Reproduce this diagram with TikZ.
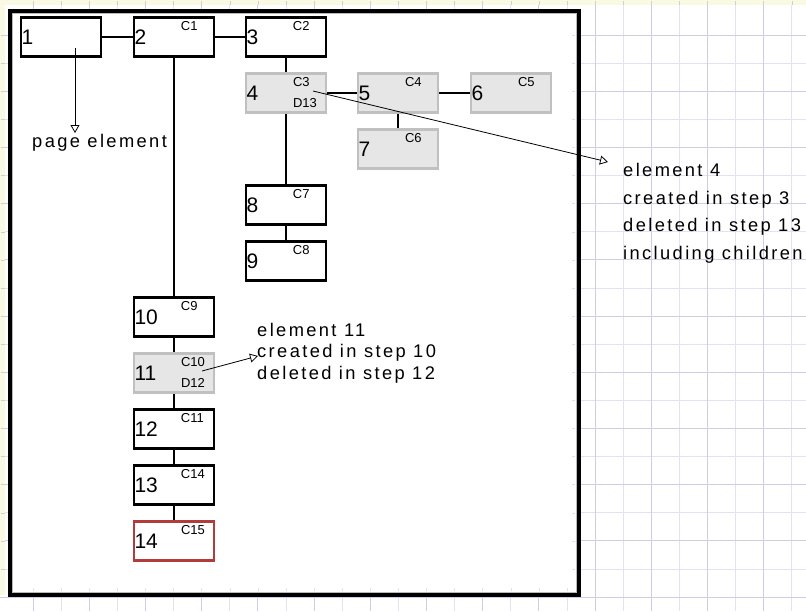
\documentclass[tikz,border=0pt]{standalone}
\usepackage{fontspec}
\setmainfont{Liberation Sans}
\newfontfamily\annfont[LetterSpace=13]{Liberation Sans}
\usetikzlibrary{arrows.meta,calc}
\definecolor{gfill}{HTML}{E6E6E6}
\definecolor{gborder}{HTML}{C0C0C0}
\definecolor{redc}{HTML}{B23C3C}
\definecolor{gridminor}{HTML}{E2E2F0}
\definecolor{gridmajor}{HTML}{CDCDE3}
\definecolor{ystrip}{HTML}{FAFAE4}
\definecolor{tickc}{HTML}{D0D0C8}
\tikzset{
  box/.style={draw=black, line width=2.5pt, minimum width=80pt, minimum height=39pt,
    inner xsep=0.5pt, inner ysep=0pt, text width=79pt, align=left,
    font=\fontsize{21}{21}\selectfont},
  gbox/.style={box, draw=gborder, fill=gfill, line width=2.2pt},
  rbox/.style={box, draw=redc, line width=2.2pt},
  conn/.style={line width=2.5pt},
  ann/.style={line width=0.8pt, -{Triangle[open, length=8pt, width=9pt, line width=0.8pt]}},
  clbl/.style={font=\fontsize{13}{13}\selectfont, inner sep=0pt, anchor=west},
  anntext/.style={align=left, inner sep=0pt, anchor=north west},
}
\begin{document}
\begin{tikzpicture}[x=1pt,y=-1pt]
\useasboundingbox (0,0) rectangle (806,611);
\fill[white] (0,0) rectangle (806,611);
% grid
\foreach \k in {1,...,28} \draw[gridminor, line width=1pt] ({5+28.1*\k},0) -- ({5+28.1*\k},611);
\foreach \k in {1,...,21} \draw[gridminor, line width=1pt] (0,{7+28.1*\k}) -- (806,{7+28.1*\k});
\foreach \k in {1,3,...,27} \draw[gridmajor, line width=1pt] ({5+28.1*\k},0) -- ({5+28.1*\k},611);
\foreach \k in {1,3,...,21} \draw[gridmajor, line width=1pt] (0,{7+28.1*\k}) -- (806,{7+28.1*\k});
% rulers
\fill[ystrip] (0,0) rectangle (806,5);
\fill[ystrip] (0,0) rectangle (5,595);
\foreach \k in {1,...,28} \draw[tickc, line width=0.6pt] ({5+28.1*\k},1) -- ({5+28.1*\k},5);
\foreach \k in {1,...,21} \draw[tickc, line width=0.6pt] (1,{7+28.1*\k}) -- (5,{7+28.1*\k});
% frame
\fill[white] (10,11) rectangle (579,595);
\foreach \k in {1,...,20} \draw[tickc!60, line width=0.5pt] ({5+28.1*\k},588) -- ({5+28.1*\k},591);
\foreach \k in {1,...,20} \draw[tickc!60, line width=0.5pt] (572,{7+28.1*\k}) -- (575,{7+28.1*\k});
\draw[black, line width=3.5pt] (10,11) rectangle (579,595);
\draw[gray!55, line width=1.5pt] (12.5,13.5) rectangle (576.5,592.5);

% boxes
\node[box]  (n1)  at (61,37)  {1};
\node[box]  (n2)  at (174,37) {2};
\node[box]  (n3)  at (286,37) {3};
\node[gbox] (n4)  at (286,93) {4};
\node[gbox] (n5)  at (398,93) {5};
\node[gbox] (n6)  at (511,93) {6};
\node[gbox] (n7)  at (398,149) {7};
\node[box]  (n8)  at (286,205) {8};
\node[box]  (n9)  at (286,261) {9};
\node[box]  (n10) at (174,317) {10};
\node[gbox] (n11) at (174,373) {11};
\node[box]  (n12) at (174,429) {12};
\node[box]  (n13) at (174,485) {13};
\node[rbox] (n14) at (174,541) {14};

% connectors
\draw[conn] (n1) -- (n2);
\draw[conn] (n2) -- (n3);
\draw[conn] (n2) -- (n10);
\draw[conn] (n3) -- (n4);
\draw[conn] (n4) -- (n8);
\draw[conn] (n8) -- (n9);
\draw[conn] (n4) -- (n5);
\draw[conn] (n5) -- (n6);
\draw[conn] (n5) -- (n7);
\draw[conn] (n10) -- (n11);
\draw[conn] (n11) -- (n12);
\draw[conn] (n12) -- (n13);
\draw[conn] (n13) -- (n14);

% step labels
\node[clbl] (c1)  at ($(n2.north west)+(48,9.5)$) {C1};
\node[clbl] (c2)  at ($(n3.north west)+(48,9.5)$) {C2};
\node[clbl] (c3)  at ($(n4.north west)+(48,9.5)$) {C3};
\node[clbl] (d13) at ($(n4.north west)+(48,31)$) {D13};
\node[clbl] (c4)  at ($(n5.north west)+(48,9.5)$) {C4};
\node[clbl] (c5)  at ($(n6.north west)+(48,9.5)$) {C5};
\node[clbl] (c6)  at ($(n7.north west)+(48,9.5)$) {C6};
\node[clbl] (c7)  at ($(n8.north west)+(48,9.5)$) {C7};
\node[clbl] (c8)  at ($(n9.north west)+(48,9.5)$) {C8};
\node[clbl] (c9)  at ($(n10.north west)+(48,9.5)$) {C9};
\node[clbl] (c10) at ($(n11.north west)+(48,9.5)$) {C10};
\node[clbl] (d12) at ($(n11.north west)+(48,30.5)$) {D12};
\node[clbl] (c11) at ($(n12.north west)+(48,9.5)$) {C11};
\node[clbl] (c14) at ($(n13.north west)+(48,9.5)$) {C14};
\node[clbl] (c15) at ($(n14.north west)+(48,9.5)$) {C15};

% annotations
\node[inner sep=0pt, anchor=base west, font=\annfont\fontsize{18.3}{21.5}\selectfont] (tp) at (32,147) {page element};
\node[anntext, font=\annfont\fontsize{18.3}{27.7}\selectfont] (t4) at (623,163)
  {element 4\\created in step 3\\deleted in step 13\\including children};
\node[anntext, font=\annfont\fontsize{18.3}{21.5}\selectfont] (t11) at (257,323)
  {element 11\\created in step 10\\deleted in step 12};

\coordinate (a1s) at ($(n1.center)+(14,11)$);
\coordinate (a1e) at ($(tp.base west)+(43,-14)$);
\coordinate (a4s) at ($(n4.center)+(27,-2)$);
\coordinate (a4e) at ($(t4.north west)+(-15,-1)$);
\coordinate (a11s) at ($(n11.center)+(28,-2)$);
\coordinate (a11e) at ($(t11.north west)+(1,33)$);
\draw[ann] (a1s) -- (a1e);
\draw[ann] (a4s) -- (a4e);
\draw[ann] (a11s) -- (a11e);
\end{tikzpicture}
\end{document}
